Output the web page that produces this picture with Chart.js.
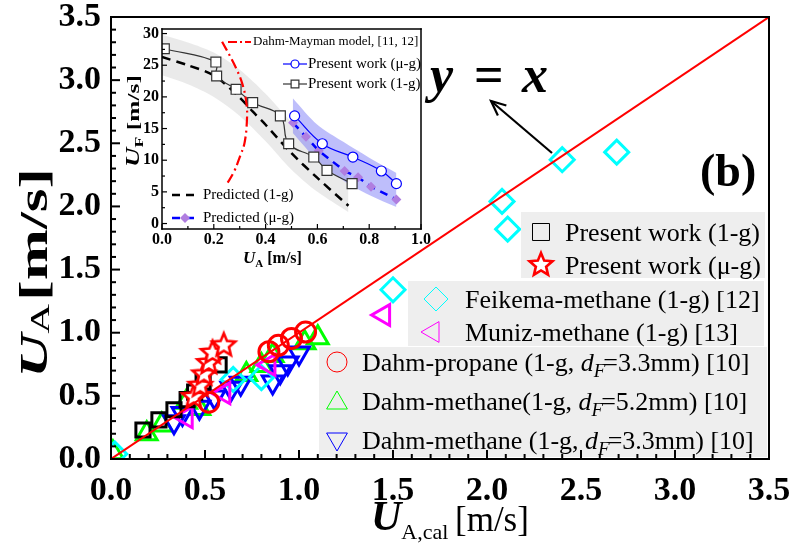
<!DOCTYPE html>
<html>
<head>
<meta charset="utf-8">
<script src="https://cdn.jsdelivr.net/npm/chart.js@4.4.0/dist/chart.umd.min.js"></script>
<style>
body { margin: 0; background: #fff; }
#wrap { position: relative; width: 795px; height: 545px; }
#wrap canvas { position: absolute; left: 0; top: 0; }
</style>
</head>
<body>
<div id="wrap">
<canvas id="main" width="795" height="545"></canvas>
<canvas id="inset" width="795" height="545"></canvas>
</div>
<script>
var FONT = 'Liberation Serif';

// ---- main plot data (U_A,cal vs U_A, m/s) ----
var refLineX = [0, 3.5];
var refLineY = [0, 3.5];

var present1gX = [0.17, 0.255, 0.335, 0.405, 0.445, 0.49, 0.575];
var present1gY = [0.23, 0.31, 0.39, 0.47, 0.53, 0.61, 0.745];

var presentMugX = [0.44, 0.475, 0.495, 0.52, 0.54, 0.60];
var presentMugY = [0.49, 0.58, 0.67, 0.76, 0.84, 0.90];

var feikemaX = [0.02, 0.65, 0.80, 1.50, 2.08, 2.11, 2.40, 2.69];
var feikemaY = [0.04, 0.63, 0.645, 1.34, 2.04, 1.82, 2.37, 2.43];

var munizX = [0.40, 0.60, 0.84, 1.45];
var munizY = [0.33, 0.52, 0.745, 1.14];

var dahmPropaneX = [0.52, 0.84, 0.89, 0.96, 1.035];
var dahmPropaneY = [0.45, 0.85, 0.90, 0.955, 1.005];

var dahmMethane52X = [0.01, 0.19, 0.27, 0.40, 0.47, 0.72, 0.80, 0.86, 1.03, 1.10];
var dahmMethane52Y = [0.05, 0.20, 0.27, 0.45, 0.40, 0.67, 0.74, 0.82, 0.92, 0.96];

var dahmMethane33X = [0.335, 0.38, 0.47, 0.55, 0.64, 0.69, 0.86, 0.90, 0.94, 1.00];
var dahmMethane33Y = [0.295, 0.36, 0.41, 0.49, 0.56, 0.60, 0.61, 0.69, 0.76, 0.84];

var mainTicks = [0, 0.5, 1.0, 1.5, 2.0, 2.5, 3.0, 3.5];

// ---- inset data (U_A vs U_F) ----
var uA1g = [0.009, 0.208, 0.211, 0.286, 0.35, 0.457, 0.489, 0.586, 0.637, 0.734];
var uF1g = [27.6, 25.5, 23.3, 21.2, 19.1, 17.0, 12.6, 10.5, 8.4, 6.3];

var uAmug = [0.512, 0.619, 0.737, 0.847, 0.905];
var uFmug = [17.0, 12.6, 10.5, 8.3, 6.3];

var predMugX = [0.506, 0.556, 0.605, 0.705, 0.757, 0.807, 0.905];
var predMugY = [15.9, 13.7, 11.5, 8.3, 7.3, 5.8, 3.8];

var pred1gX = [0, 0.1, 0.2, 0.3, 0.35, 0.4, 0.5, 0.6, 0.72];
var pred1gY = [26.3, 25.0, 23.4, 19.9, 17.7, 15.6, 11.1, 7.2, 2.8];

var band1gX = [0, 0.1, 0.2, 0.3, 0.4, 0.5, 0.6, 0.72];
var band1gHi = [29.8, 28.6, 27.0, 24.3, 20.5, 16.0, 11.8, 7.5];
var band1gLo = [23.4, 22.0, 20.0, 17.0, 13.0, 8.5, 5.0, 1.8];

var bandMugX = [0.505, 0.6, 0.7, 0.8, 0.905];
var bandMugHi = [19.8, 15.6, 12.9, 10.4, 8.0];
var bandMugLo = [14.3, 10.0, 6.8, 4.5, 2.6];

var dahmMaymanX = [0.232, 0.277, 0.309, 0.326, 0.328, 0.319, 0.302, 0.277, 0.248];
var dahmMaymanY = [28.7, 25.3, 22.2, 19.0, 16.4, 12.8, 10.7, 8.1, 6.1];

var insetTicksX = [0, 0.2, 0.4, 0.6, 0.8, 1.0];
var insetTicksY = [0, 5, 10, 15, 20, 25, 30];

function pts(xs, ys) {
    return xs.map(function (x, i) { return { x: x, y: ys[i] }; });
}

function makeStar(r, color, lw) {
    var c = document.createElement('canvas');
    var s = Math.ceil(2 * r + 2 * lw + 2);
    c.width = s; c.height = s;
    var g = c.getContext('2d');
    g.beginPath();
    for (var i = 0; i < 10; i++) {
        var rr = i % 2 == 0 ? r : r * 0.45;
        var a = -Math.PI / 2 + i * Math.PI / 5;
        g.lineTo(s / 2 + rr * Math.cos(a), s / 2 + rr * Math.sin(a));
    }
    g.closePath();
    g.fillStyle = '#fff';
    g.fill();
    g.lineWidth = lw;
    g.strokeStyle = color;
    g.stroke();
    return c;
}
var starImg = makeStar(12, '#ff0000', 2.6);

// draws a row of text pieces, each {t, font, dy, dx}
function drawRich(ctx, x, y, parts) {
    ctx.textAlign = 'left';
    parts.forEach(function (p) {
        ctx.font = p.font;
        x += (p.dx || 0);
        ctx.fillText(p.t, x, y + (p.dy || 0));
        x += ctx.measureText(p.t).width;
    });
    return x;
}

function richWidth(ctx, parts) {
    var w = 0;
    parts.forEach(function (p) { ctx.font = p.font; w += ctx.measureText(p.t).width + (p.dx || 0); });
    return w;
}

// rotated title stretched to a given length (bottom y -> top y)
function drawVTitle(ctx, xBase, yBottom, len, parts) {
    ctx.save();
    ctx.translate(xBase, yBottom);
    ctx.rotate(-Math.PI / 2);
    var w = richWidth(ctx, parts);
    ctx.scale(len / w, 1);
    drawRich(ctx, 0, 0, parts);
    ctx.restore();
}

// box and inward ticks, drawn with filled rectangles
function drawFrame(chart, o) {
    var ctx = chart.ctx, xs = chart.scales.x, ys = chart.scales.y;
    var L = Math.round(xs.getPixelForValue(xs.min)), R = Math.round(xs.getPixelForValue(xs.max));
    var T = Math.round(ys.getPixelForValue(ys.max)), B = Math.round(ys.getPixelForValue(ys.min));
    var w = o.lw, h = w / 2;
    ctx.save();
    ctx.fillStyle = '#000';
    ctx.fillRect(L - h, T - h, R - L + w, w);
    ctx.fillRect(L - h, B - h, R - L + w, w);
    ctx.fillRect(L - h, T - h, w, B - T + w);
    ctx.fillRect(R - h, T - h, w, B - T + w);
    var i, v, px, len;
    var tw = o.tw;
    var n = Math.round((o.xTo - o.xFrom) / o.xMinor);
    for (i = 0; i <= n; i++) {
        v = o.xFrom + i * o.xMinor;
        len = Math.abs(v / o.xMajor - Math.round(v / o.xMajor)) < 1e-6 ? o.major : o.minor;
        px = xs.getPixelForValue(v);
        ctx.fillRect(px - tw / 2, B - len, tw, len);
    }
    n = Math.round((o.yTo - o.yFrom) / o.yMinor);
    for (i = 0; i <= n; i++) {
        v = o.yFrom + i * o.yMinor;
        len = Math.abs(v / o.yMajor - Math.round(v / o.yMajor)) < 1e-6 ? o.major : o.minor;
        px = ys.getPixelForValue(v);
        ctx.fillRect(L, px - tw / 2, len, tw);
    }
    ctx.restore();
}

function legendMark(ctx, style, color, x, y, r, rot, lw) {
    ctx.save();
    ctx.strokeStyle = color;
    ctx.fillStyle = 'rgba(0,0,0,0)';
    Chart.helpers.drawPoint(ctx, { pointStyle: style, radius: r, rotation: rot || 0, borderWidth: lw || 3 }, x, y);
    ctx.restore();
}

var mainDecor = {
    id: 'mainDecor',
    afterDatasetsDraw: function (chart) {
        var ctx = chart.ctx;
        ctx.save();
        // legend boxes
        ctx.fillStyle = '#eeeeee';
        ctx.fillRect(521, 212, 244, 66);
        ctx.fillRect(408, 281, 356, 65);
        ctx.fillRect(319, 347, 448, 110);

        legendMark(ctx, 'rect', '#000', 541, 232, 12, 0, 3);
        legendMark(ctx, starImg, '#f00', 541, 265, 12, 0, 0);
        legendMark(ctx, 'rectRot', '#00ffff', 436, 299, 12, 0, 3);
        legendMark(ctx, 'triangle', '#ff00ff', 433, 332, 12, -90, 3);
        legendMark(ctx, 'circle', '#ff0000', 337, 362, 10, 0, 3);
        legendMark(ctx, 'triangle', '#00ff00', 337, 403, 12, 0, 3);
        legendMark(ctx, 'triangle', '#0000ff', 337, 439, 12, 180, 3);

        ctx.fillStyle = '#000';
        ctx.textBaseline = 'alphabetic';
        var f = '26px ' + FONT, fi = 'italic 26px ' + FONT, fs = 'italic 19px ' + FONT;
        drawRich(ctx, 565, 241, [{ t: 'Present work (1-g)', font: f }]);
        drawRich(ctx, 565, 274, [{ t: 'Present work (\u03bc-g)', font: f }]);
        drawRich(ctx, 465, 308, [{ t: 'Feikema-methane (1-g) [12]', font: f }]);
        drawRich(ctx, 465, 341, [{ t: 'Muniz-methane (1-g) [13]', font: f }]);
        drawRich(ctx, 362, 371, [{ t: 'Dahm-propane (1-g, ', font: f }, { t: 'd', font: fi }, { t: 'F', font: fs, dy: 6 }, { t: '=3.3mm) [10]', font: f, dx: -2 }]);
        drawRich(ctx, 362, 410, [{ t: 'Dahm-methane(1-g, ', font: f }, { t: 'd', font: fi }, { t: 'F', font: fs, dy: 6 }, { t: '=5.2mm) [10]', font: f, dx: -2 }]);
        drawRich(ctx, 362, 449, [{ t: 'Dahm-methane (1-g, ', font: f }, { t: 'd', font: fi }, { t: 'F', font: fs, dy: 6 }, { t: '=3.3mm) [10]', font: f, dx: -2 }]);

        // y = x annotation
        drawRich(ctx, 430, 92, [{ t: 'y', font: 'bold italic 52px ' + FONT }]);
        drawRich(ctx, 522, 92, [{ t: 'x', font: 'bold italic 52px ' + FONT }]);
        drawRich(ctx, 474, 92, [{ t: '=', font: 'bold 52px ' + FONT }]);
        drawRich(ctx, 700, 186, [{ t: '(b)', font: 'bold 46px ' + FONT }]);

        // arrow
        ctx.strokeStyle = '#000';
        ctx.lineWidth = 2.2;
        ctx.beginPath();
        ctx.moveTo(552, 153);
        ctx.lineTo(491, 101);
        ctx.stroke();
        var ang = Math.atan2(153 - 101, 552 - 491);
        ctx.beginPath();
        ctx.moveTo(491 + 16 * Math.cos(ang - 0.42), 101 + 16 * Math.sin(ang - 0.42));
        ctx.lineTo(491, 101);
        ctx.lineTo(491 + 16 * Math.cos(ang + 0.42), 101 + 16 * Math.sin(ang + 0.42));
        ctx.stroke();
        ctx.restore();
    },
    afterDraw: function (chart) {
        drawFrame(chart, { lw: 2, tw: 2, major: 9, minor: 5, xFrom: 0, xTo: 3.5, xMinor: 0.1, xMajor: 0.5, yFrom: 0, yTo: 3.5, yMinor: 0.1, yMajor: 0.5 });
        var ctx = chart.ctx;
        ctx.save();
        ctx.fillStyle = '#000';
        ctx.textBaseline = 'alphabetic';
        // x title
        drawRich(ctx, 371, 530, [{ t: 'U', font: 'bold italic 42px ' + FONT }, { t: 'A,cal', font: '22px ' + FONT, dy: 9 }]);
        drawRich(ctx, 455, 531, [{ t: '[m/s]', font: '35px ' + FONT }]);
        // y title
        drawVTitle(ctx, 47, 378, 210, [{ t: 'U', font: 'bold italic 40px ' + FONT }, { t: 'A', font: '27px ' + FONT, dy: 2 }, { t: '[m/s]', font: 'bold 40px ' + FONT, dx: 2 }]);
        ctx.restore();
    }
};

var insetDecor = {
    id: 'insetDecor',
    beforeDraw: function (chart) {
        var ctx = chart.ctx, a = chart.chartArea;
        ctx.save();
        ctx.fillStyle = '#fff';
        ctx.fillRect(a.left, a.top, a.right - a.left, a.bottom - a.top);
        ctx.restore();
    },
    afterDraw: function (chart) {
        drawFrame(chart, { lw: 1.5, tw: 1.2, major: 5, minor: 3, xFrom: 0, xTo: 1, xMinor: 0.1, xMajor: 0.2, yFrom: 0, yTo: 30, yMinor: 2.5, yMajor: 5 });
        var ctx = chart.ctx;
        ctx.save();
        ctx.fillStyle = '#000';
        ctx.textBaseline = 'middle';
        // legend (top right)
        ctx.strokeStyle = '#ff0000';
        ctx.lineWidth = 2;
        ctx.setLineDash([9, 3, 2, 3]);
        ctx.beginPath(); ctx.moveTo(228, 42); ctx.lineTo(251, 42); ctx.stroke();
        ctx.setLineDash([]);
        ctx.lineWidth = 1.2;
        ctx.strokeStyle = '#0000ff';
        ctx.beginPath(); ctx.moveTo(283, 64); ctx.lineTo(307, 64); ctx.stroke();
        ctx.fillStyle = '#fff';
        Chart.helpers.drawPoint(ctx, { pointStyle: 'circle', radius: 4, borderWidth: 1.2 }, 295, 64);
        ctx.strokeStyle = '#333';
        ctx.beginPath(); ctx.moveTo(283, 84); ctx.lineTo(307, 84); ctx.stroke();
        Chart.helpers.drawPoint(ctx, { pointStyle: 'rect', radius: 5.5, borderWidth: 1.2 }, 295, 84);
        // legend (bottom left)
        ctx.lineWidth = 2.5;
        ctx.setLineDash([8, 6]);
        ctx.strokeStyle = '#000';
        ctx.beginPath(); ctx.moveTo(172, 195); ctx.lineTo(198, 195); ctx.stroke();
        ctx.strokeStyle = '#0000ff';
        ctx.beginPath(); ctx.moveTo(172, 218); ctx.lineTo(198, 218); ctx.stroke();
        ctx.setLineDash([]);
        ctx.fillStyle = '#b07ee0';
        Chart.helpers.drawPoint(ctx, { pointStyle: 'rectRot', radius: 5, borderWidth: 0 }, 185, 218);

        ctx.fillStyle = '#000';
        drawRich(ctx, 253, 42, [{ t: 'Dahm-Mayman model, [11, 12]', font: '13px ' + FONT }]);
        drawRich(ctx, 308, 64, [{ t: 'Present work (\u03bc-g)', font: '15px ' + FONT }]);
        drawRich(ctx, 308, 84, [{ t: 'Present work (1-g)', font: '15px ' + FONT }]);
        drawRich(ctx, 203, 195, [{ t: 'Predicted (1-g)', font: '15px ' + FONT }]);
        drawRich(ctx, 203, 218, [{ t: 'Predicted (\u03bc-g)', font: '15px ' + FONT }]);

        // axis titles
        ctx.textBaseline = 'alphabetic';
        drawRich(ctx, 243, 263, [{ t: 'U', font: 'bold italic 17px ' + FONT }, { t: 'A', font: 'bold 11px ' + FONT, dy: 4 }, { t: ' [m/s]', font: 'bold 16px ' + FONT }]);
        drawVTitle(ctx, 139, 167, 92, [{ t: 'U', font: 'bold italic 18px ' + FONT }, { t: 'F', font: 'bold 12px ' + FONT, dy: 4 }, { t: ' [m/s]', font: 'bold 17px ' + FONT }]);
        ctx.restore();
    }
};

function markerSet(data, style, color, r, rot) {
    return {
        data: data, showLine: false, pointStyle: style, pointRadius: r, pointRotation: rot || 0,
        pointBorderColor: color, pointBackgroundColor: 'rgba(0,0,0,0)', pointBorderWidth: 3
    };
}

var mainDatasets = [
    { data: pts(refLineX, refLineY), showLine: true, borderColor: '#ff0000', borderWidth: 2, pointRadius: 0 },
    { data: pts(presentMugX, presentMugY), showLine: false, pointStyle: starImg, pointRadius: 12 },
    markerSet(pts(present1gX, present1gY), 'rect', '#000000', 10),
    markerSet(pts(dahmPropaneX, dahmPropaneY), 'circle', '#ff0000', 10),
    markerSet(pts(munizX, munizY), 'triangle', '#ff00ff', 12, -90),
    markerSet(pts(feikemaX, feikemaY), 'rectRot', '#00ffff', 12),
    markerSet(pts(dahmMethane33X, dahmMethane33Y), 'triangle', '#0000ff', 12, 180),
    markerSet(pts(dahmMethane52X, dahmMethane52Y), 'triangle', '#00ff00', 12)
];

var tickFont = { family: FONT, size: 34, weight: 'bold' };

new Chart(document.getElementById('main'), {
    type: 'scatter',
    data: { datasets: mainDatasets },
    options: {
        responsive: false,
        animation: false,
        devicePixelRatio: 1,
        events: [],
        layout: { padding: { left: 0, top: 17, right: 26, bottom: 0 } },
        plugins: { legend: { display: false }, tooltip: { enabled: false } },
        scales: {
            x: {
                type: 'linear', min: 0, max: 3.5,
                afterBuildTicks: function (s) { s.ticks = mainTicks.map(function (v) { return { value: v }; }); },
                ticks: { autoSkip: false, maxRotation: 0, padding: 12, color: '#000', font: tickFont, callback: function (v) { return v.toFixed(1); } },
                grid: { display: false, drawTicks: false }, border: { display: false },
                afterFit: function (s) { s.height = 86; s.paddingLeft = 0; s.paddingRight = 0; }
            },
            y: {
                type: 'linear', min: 0, max: 3.5,
                afterBuildTicks: function (s) { s.ticks = mainTicks.map(function (v) { return { value: v }; }); },
                ticks: { autoSkip: false, padding: 10, color: '#000', font: tickFont, callback: function (v) { return v.toFixed(1); } },
                grid: { display: false, drawTicks: false }, border: { display: false },
                afterFit: function (s) { s.width = 111; s.paddingTop = 0; s.paddingBottom = 0; }
            }
        }
    },
    plugins: [mainDecor]
});

var insetDatasets = [
    { data: pts(dahmMaymanX, dahmMaymanY), showLine: true, borderColor: '#ff0000', borderWidth: 2.2, borderDash: [10, 4, 2, 4], pointRadius: 0, tension: 0.4 },
    { data: pts(uAmug, uFmug), showLine: true, borderColor: '#0000ff', borderWidth: 1.2, tension: 0.4, pointStyle: 'circle', pointRadius: 5, pointBorderColor: '#0000ff', pointBackgroundColor: '#fff', pointBorderWidth: 1.2 },
    { data: pts(uA1g, uF1g), showLine: true, borderColor: '#333', borderWidth: 1.2, tension: 0.4, pointStyle: 'rect', pointRadius: 7, pointBorderColor: '#333', pointBackgroundColor: '#fff', pointBorderWidth: 1.2 },
    { data: pts(predMugX, predMugY), showLine: true, borderColor: '#0000ff', borderWidth: 2.5, borderDash: [8, 6], pointStyle: 'rectRot', pointRadius: 5, pointBackgroundColor: '#b07ee0', pointBorderWidth: 0 },
    { data: pts(pred1gX, pred1gY), showLine: true, borderColor: '#000', borderWidth: 2.5, borderDash: [9, 6], pointRadius: 0, tension: 0.3 },
    { data: pts(bandMugX, bandMugHi), showLine: true, borderWidth: 0, pointRadius: 0, tension: 0.3, fill: '+1', backgroundColor: 'rgba(100,100,245,0.42)' },
    { data: pts(bandMugX, bandMugLo), showLine: true, borderWidth: 0, pointRadius: 0, tension: 0.3 },
    { data: pts(band1gX, band1gHi), showLine: true, borderWidth: 0, pointRadius: 0, tension: 0.3, fill: '+1', backgroundColor: 'rgba(190,190,190,0.32)' },
    { data: pts(band1gX, band1gLo), showLine: true, borderWidth: 0, pointRadius: 0, tension: 0.3 }
];

var insetTickFont = { family: FONT, size: 16, weight: 'bold' };

new Chart(document.getElementById('inset'), {
    type: 'scatter',
    data: { datasets: insetDatasets },
    options: {
        responsive: false,
        animation: false,
        devicePixelRatio: 1,
        events: [],
        layout: { padding: { left: 112, top: 28.5, right: 374, bottom: 276.4 } },
        plugins: { legend: { display: false }, tooltip: { enabled: false }, filler: { drawTime: 'beforeDatasetsDraw' } },
        scales: {
            x: {
                type: 'linear', min: 0, max: 1,
                afterBuildTicks: function (s) { s.ticks = insetTicksX.map(function (v) { return { value: v }; }); },
                ticks: { autoSkip: false, maxRotation: 0, padding: 2, color: '#000', font: insetTickFont, callback: function (v) { return v.toFixed(1); } },
                grid: { display: false, drawTicks: false }, border: { display: false },
                afterFit: function (s) { s.height = 40; s.paddingLeft = 0; s.paddingRight = 0; }
            },
            y: {
                type: 'linear', min: -0.8, max: 30.8,
                afterBuildTicks: function (s) { s.ticks = insetTicksY.map(function (v) { return { value: v }; }); },
                ticks: { autoSkip: false, padding: 3, color: '#000', font: insetTickFont },
                grid: { display: false, drawTicks: false }, border: { display: false },
                afterFit: function (s) { s.width = 50; s.paddingTop = 0; s.paddingBottom = 0; }
            }
        }
    },
    plugins: [insetDecor]
});
</script>
</body>
</html>
